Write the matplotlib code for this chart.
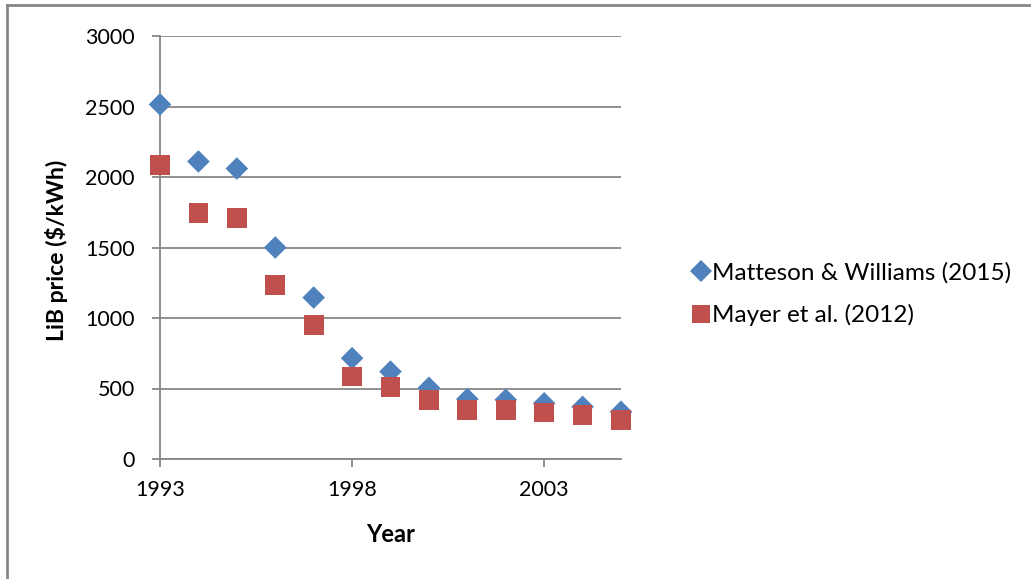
import matplotlib
matplotlib.use("Agg")
import matplotlib.pyplot as plt
from matplotlib.lines import Line2D

years = [1993, 1994, 1995, 1996, 1997, 1998, 1999, 2000, 2001, 2002, 2003, 2004, 2005]
matteson_williams = [2515, 2110, 2060, 1500, 1145, 715, 620, 505, 425, 420, 395, 370, 335]
mayer = [2085, 1745, 1710, 1235, 950, 585, 510, 420, 350, 350, 330, 310, 275]
x_ticks = [1993, 1998, 2003]
y_ticks = [0, 500, 1000, 1500, 2000, 2500, 3000]

series_names = ["Matteson & Williams (2015)", "Mayer et al. (2012)"]
blue = "#4F81BD"
red = "#C0504D"
gray = "#878787"
font = "Lato"

W, H = 1031, 579
fig = plt.figure(figsize=(W / 100, H / 100), dpi=100)
ax = fig.add_axes([160 / W, 1 - 459 / H, (621 - 160) / W, (459 - 36) / H])

ax.scatter(years, matteson_williams, marker="D", s=11.5 ** 2, color=blue,
           edgecolors="none", zorder=3, clip_on=False)
ax.scatter(years, mayer, marker="s", s=14.2 ** 2, color=red,
           edgecolors="none", zorder=4, clip_on=False)

ax.set_xlim(1993, 2005)
ax.set_ylim(0, 3000)
ax.set_xticks(x_ticks)
ax.set_yticks(y_ticks)
ax.grid(axis="y", color=gray, linewidth=1.3)
ax.set_axisbelow(True)
for side in ["top", "right"]:
    ax.spines[side].set_visible(False)
ax.spines["left"].set_color(gray)
ax.spines["bottom"].set_color(gray)
ax.spines["left"].set_linewidth(1.3)
ax.spines["bottom"].set_linewidth(1.3)
ax.tick_params(axis="both", colors=gray, length=6, width=1.3, direction="out")
ax.tick_params(axis="y", labelcolor="black", labelsize=15.5, pad=12)
ax.tick_params(axis="x", labelcolor="black", labelsize=15.5, pad=9)
for lbl in ax.get_xticklabels() + ax.get_yticklabels():
    lbl.set_fontfamily(font)

fig.text(57 / W, 1 - 250 / H, "LiB price ($/kWh)", rotation=90, ha="center",
         va="center", fontsize=16.6, fontweight="bold", family=font)
fig.text(391 / W, 1 - 534 / H, "Year", ha="center", va="center",
         fontsize=17, fontweight="bold", family=font)

# legend entries
handles = [
    Line2D([], [], marker="D", linestyle="none", color=blue, markersize=11,
           markeredgewidth=0),
    Line2D([], [], marker="s", linestyle="none", color=red, markersize=13.5,
           markeredgewidth=0),
]
fig.legend(handles, series_names, loc="center left",
           bbox_to_anchor=(673 / W, 1 - 294 / H), frameon=False,
           prop={"family": font, "size": 17.5}, handletextpad=-0.3,
           handlelength=1.5, labelspacing=0.85, borderaxespad=0)

# chart frame (top and left edges)
fig.add_artist(Line2D([6.5 / W, 6.5 / W], [0, 1 - 5 / H], transform=fig.transFigure,
                      color=gray, linewidth=2))
fig.add_artist(Line2D([6.5 / W, 1], [1 - 5 / H, 1 - 5 / H], transform=fig.transFigure,
                      color=gray, linewidth=2))

fig.savefig("out.png", dpi=100, facecolor="white")
